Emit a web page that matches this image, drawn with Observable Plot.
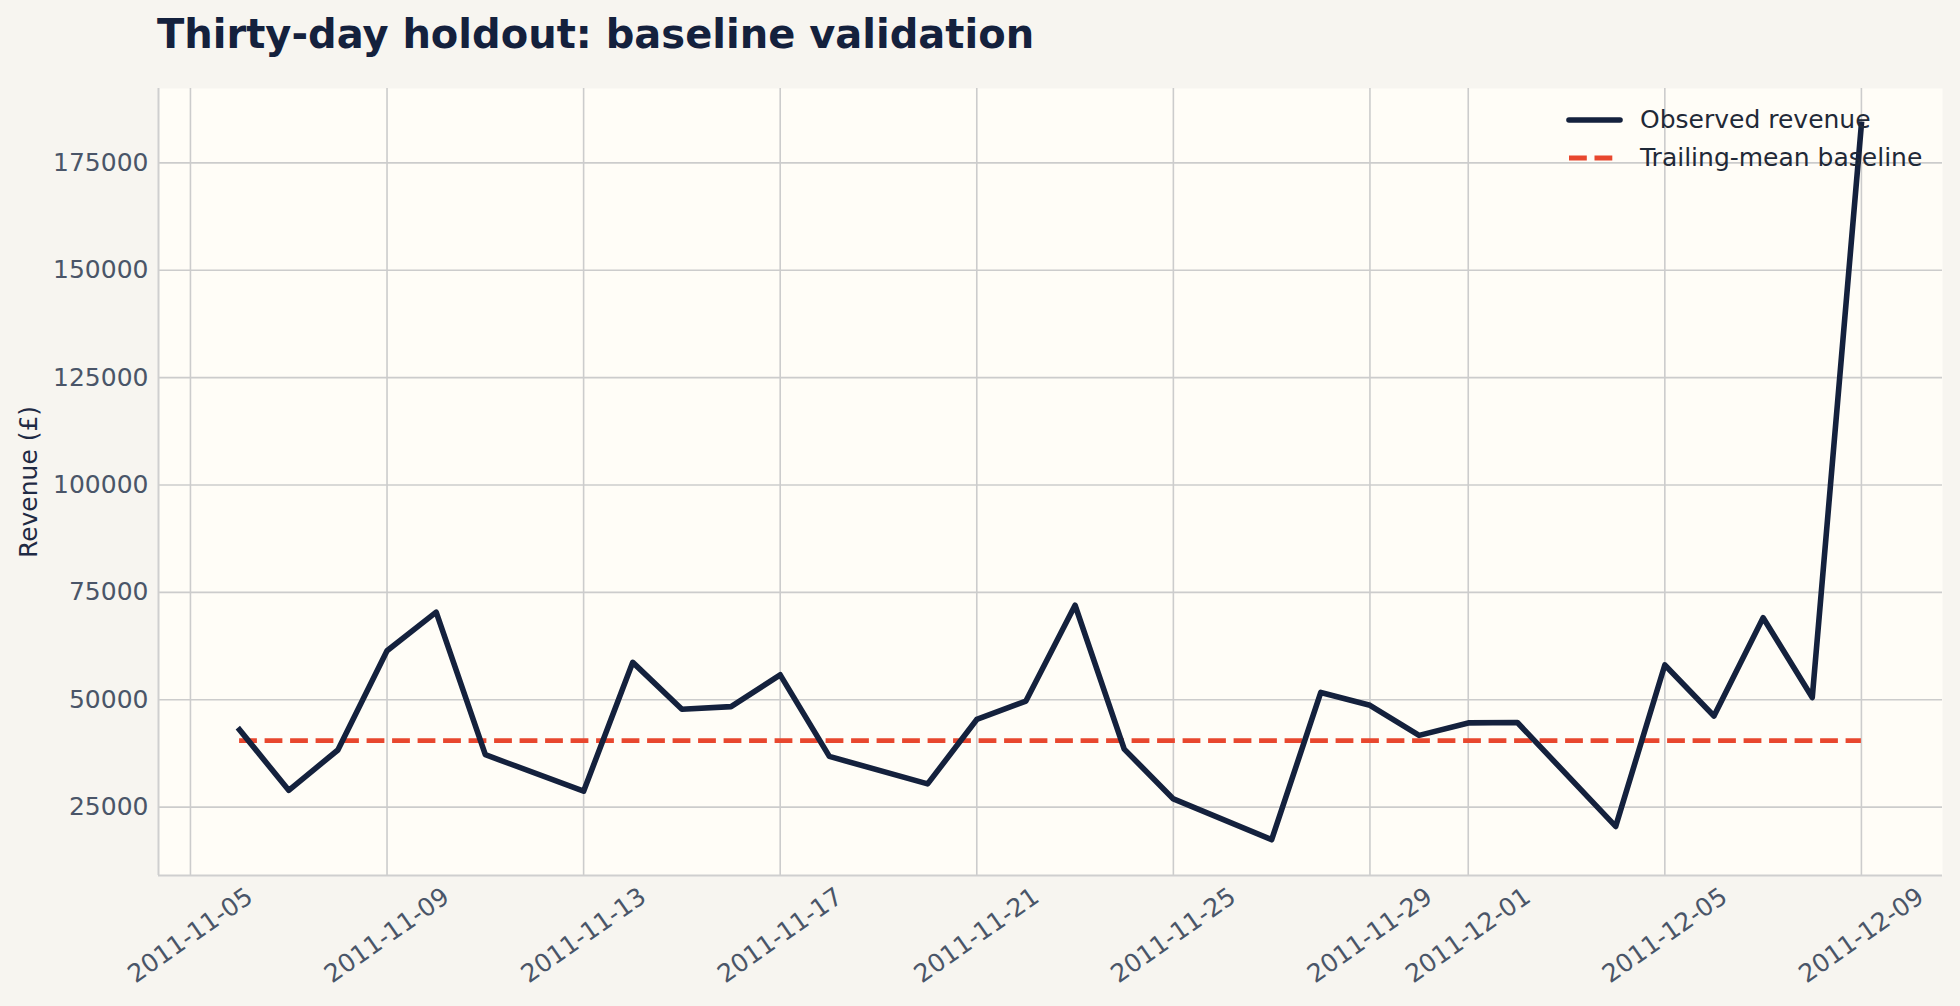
<!DOCTYPE html>
<html>
<head>
<meta charset="utf-8">
<script src="https://cdn.jsdelivr.net/npm/d3@7"></script>
<script src="https://cdn.jsdelivr.net/npm/@observablehq/plot@0.6"></script>
<style>
  html, body { margin: 0; padding: 0; background: #f7f5f0; }
  body { width: 1960px; height: 1006px; overflow: hidden; font-family: "DejaVu Sans", sans-serif; }
  #wrap { position: relative; width: 1960px; height: 1006px; }
  #title { position: absolute; left: 157px; top: 14px; font-size: 40px; line-height: 40px; font-weight: bold; color: #14213d; white-space: nowrap; }
  #chart { position: absolute; left: 0; top: 70px; }
  #chart svg { background: transparent; font-family: "DejaVu Sans", sans-serif; }
  .lg { position: absolute; left: 1566px; height: 30px; display: flex; align-items: center; font-size: 25px; line-height: 30px; color: #1f2937; white-space: nowrap; }
  .lg svg { margin-right: 17px; }
</style>
</head>
<body>
<div id="wrap">
  <div id="title">Thirty-day holdout: baseline validation</div>
  <div id="chart"></div>
  <div class="lg" style="top:105px"><svg width="57" height="12"><line x1="3" y1="6" x2="54" y2="6" stroke="#14213d" stroke-width="5.6" stroke-linecap="round"/></svg><span>Observed revenue</span></div>
  <div class="lg" style="top:143px"><svg width="57" height="12"><line x1="3" y1="6" x2="54" y2="6" stroke="#e8472e" stroke-width="4.8" stroke-dasharray="17.8,7.7"/></svg><span>Trailing-mean baseline</span></div>
</div>
<script>
const dates = ["2011-11-06","2011-11-07","2011-11-08","2011-11-09","2011-11-10","2011-11-11",
  "2011-11-13","2011-11-14","2011-11-15","2011-11-16","2011-11-17","2011-11-18",
  "2011-11-20","2011-11-21","2011-11-22","2011-11-23","2011-11-24","2011-11-25",
  "2011-11-27","2011-11-28","2011-11-29","2011-11-30","2011-12-01","2011-12-02",
  "2011-12-04","2011-12-05","2011-12-06","2011-12-07","2011-12-08","2011-12-09"];
const revenue = [43000, 28900, 38300, 61400, 70400, 37200,
  28700, 58700, 47800, 48400, 55800, 36800,
  30400, 45400, 49700, 72000, 38500, 26900,
  17400, 51700, 48700, 41700, 44600, 44700,
  20500, 58100, 46200, 69100, 50500, 184000];
const baseline = 40500;
const xTickLabels = ["2011-11-05","2011-11-09","2011-11-13","2011-11-17","2011-11-21",
  "2011-11-25","2011-11-29","2011-12-01","2011-12-05","2011-12-09"];
const yTicks = [25000, 50000, 75000, 100000, 125000, 150000, 175000];

const parse = d3.utcParse("%Y-%m-%d");
const rows = dates.map((d, i) => ({date: parse(d), revenue: revenue[i]}));
const xTicks = xTickLabels.map(parse);

const x0 = rows[0].date, x1 = rows[rows.length - 1].date;
const xpad = (x1 - x0) * 0.05;
const xDomain = [new Date(+x0 - xpad), new Date(+x1 + xpad)];
const [ymin, ymax] = d3.extent(revenue);
const ypad = (ymax - ymin) * 0.05;
const yDomain = [ymin - ypad, ymax + ypad];

const tickColor = "#4a5568";

const chart = Plot.plot({
  width: 1960,
  height: 936,
  marginTop: 18,
  marginBottom: 131,
  marginLeft: 158,
  marginRight: 18,
  style: {background: "transparent", fontFamily: "DejaVu Sans, sans-serif"},
  x: {type: "utc", domain: xDomain, axis: null},
  y: {domain: yDomain, axis: null},
  marks: [
    Plot.frame({fill: "#fffdf7", stroke: "none"}),
    Plot.gridY(yTicks, {stroke: "#cccccc", strokeOpacity: 1, strokeWidth: 1.6}),
    Plot.gridX(xTicks, {stroke: "#cccccc", strokeOpacity: 1, strokeWidth: 1.6}),
    Plot.ruleX([xDomain[0]], {stroke: "#cfcfcf", strokeWidth: 2}),
    Plot.ruleY([yDomain[0]], {stroke: "#cfcfcf", strokeWidth: 2}),
    Plot.axisY(yTicks, {tickSize: 0, tickPadding: 10, tickFormat: d3.format("d"), fontSize: 25, color: tickColor, label: null}),
    Plot.text(xTicks, {x: d => d, frameAnchor: "bottom", dy: 60, rotate: -35,
      text: (d, i) => xTickLabels[i], textAnchor: "middle", lineAnchor: "middle", fontSize: 25, fill: tickColor}),
    Plot.text(["Revenue (£)"], {frameAnchor: "left", dx: -130, rotate: -90, text: d => d,
      fontSize: 25, fill: "#1f2a44", textAnchor: "middle", lineAnchor: "middle"}),
    Plot.ruleY([baseline], {x1: x0, x2: x1, stroke: "#e8472e", strokeWidth: 4.8, strokeDasharray: "17.8,7.7"}),
    Plot.line(rows, {x: "date", y: "revenue", stroke: "#14213d", strokeWidth: 5.6, strokeLinejoin: "round", strokeLinecap: "square"})
  ]
});
document.getElementById("chart").appendChild(chart);
</script>
</body>
</html>
